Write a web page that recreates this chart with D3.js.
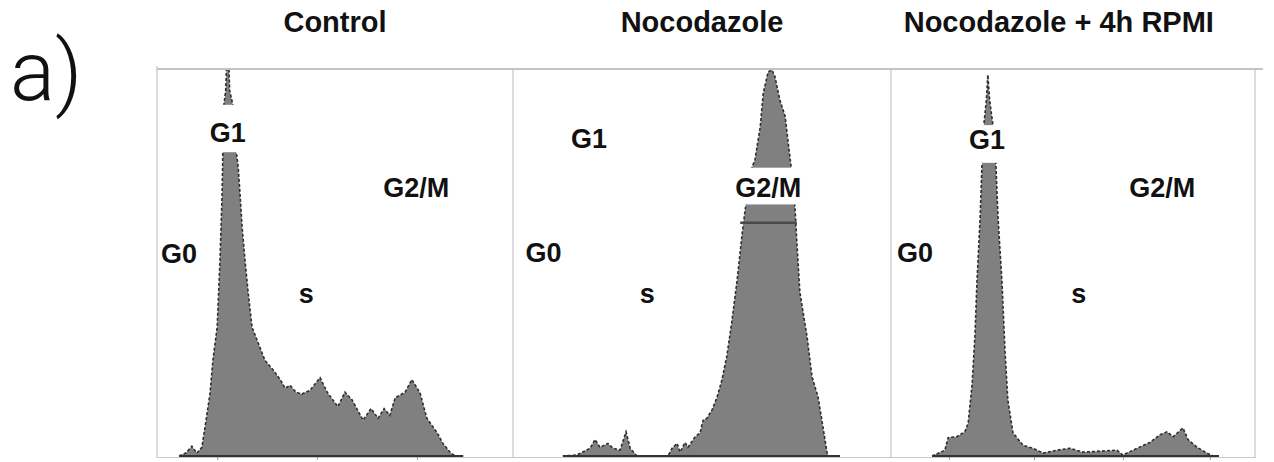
<!DOCTYPE html>
<html>
<head>
<meta charset="utf-8">
<script src="https://cdn.jsdelivr.net/npm/d3@7"></script>
<style>
  html, body { margin: 0; padding: 0; background: #fff; }
  svg { display: block; }
</style>
</head>
<body>
<div id="chart"></div>
<script>
// panel titles
const titles = ["Control", "Nocodazole", "Nocodazole + 4h RPMI"];
const phaseNames = ["G0", "G1", "s", "G2/M"];

// DNA content histograms: [channel (0-1000), events (0-400 = top of frame)]
const controlHist = [
  [62,0],[81,3],[98,10],[112,3],[126,9],[135,30],[149,65],[157,99],[169,133],[177,203],
  [183,272],[185,316],[188,363],[193,378],[199,440],[204,378],[213,363],[222,316],[228,299],
  [233,272],[239,237],[247,203],[256,169],[267,133],[284,117],[303,99],[326,89],[346,79],
  [360,70],[374,73],[390,66],[407,64],[430,68],[458,81],[478,66],[508,51],[528,66],[548,58],
  [579,37],[601,49],[621,39],[638,49],[654,42],[669,60],[697,66],[716,79],[739,65],[758,39],
  [787,24],[803,13],[823,4],[837,0],[860,0]
];
const nocodazoleHist = [
  [132,0],[169,1],[204,8],[217,17],[230,9],[251,13],[265,8],[283,6],[299,25],[310,8],
  [328,0],[410,0],[421,8],[434,13],[442,4],[455,14],[463,9],[482,20],[495,24],[503,37],
  [513,39],[527,48],[540,61],[553,79],[566,104],[579,139],[593,182],[606,229],[614,254],
  [622,275],[632,298],[640,306],[654,340],[662,375],[675,397],[685,399],[693,392],[706,368],
  [720,351],[728,324],[736,298],[741,275],[746,257],[751,220],[759,169],[778,123],[791,82],
  [807,61],[820,30],[831,3],[836,0],[865,0]
];
const releaseHist = [
  [113,0],[148,6],[157,19],[181,20],[203,25],[212,34],[223,75],[231,127],[236,179],[245,247],
  [250,303],[255,342],[262,368],[266,394],[271,368],[280,342],[288,303],[294,247],[305,179],
  [313,110],[321,58],[335,24],[363,11],[390,8],[418,3],[456,6],[492,8],[527,4],[574,5],
  [621,6],[637,1],[676,8],[711,14],[739,22],[758,25],[775,20],[802,29],[816,17],[841,9],
  [868,3],[885,0],[901,0]
];
const histograms = [controlHist, nocodazoleHist, releaseHist];

// small axis ticks on the bottom line (channel)
const axisTicks = [[169, 449, 730], [], [159, 393, 637, 876]];

// dark gate line across the nocodazole G2/M peak: [from, to, events]
const gateLine = [601, 751, 241];

// title centre per panel (channel)
const titleAnchors = [500, 500, 461];

// phase label anchors per panel: [channel, events], order as phaseNames
const labelAnchors = [
  [[62,200],[199,325],[419,158],[728,268]],
  [[81,201],[201,318],[355,158],[675,268]],
  [[66,201],[264,317],[516,158],[745,268]]
];
// which label blanks out the peak behind it: [panel, phase, low events, high events]
const labelMasks = [[0, 1, 314, 363], [1, 3, 260, 298], [2, 1, 303, 342]];

const width = 1274;
const height = 462;
const panelEdges = [157, 513, 891, 1255];
const plotTop = 69;
const plotBottom = 456;

const y = d3.scaleLinear([0, 400], [plotBottom, plotTop]);

const svg = d3.select("#chart").append("svg")
    .attr("width", width)
    .attr("height", height)
    .attr("viewBox", [0, 0, width, height]);

const defs = svg.append("defs");

// "a)" panel letter
svg.append("text")
    .attr("x", 10)
    .attr("y", 100)
    .attr("font-family", "Roboto, 'Open Sans', sans-serif")
    .attr("font-weight", 300)
    .attr("font-size", 84)
    .attr("fill", "#111")
    .text("a)");

// frame: top line and panel dividers
svg.append("line")
    .attr("x1", panelEdges[0]).attr("x2", panelEdges[3] + 8)
    .attr("y1", plotTop).attr("y2", plotTop)
    .attr("stroke", "#b0b0b0").attr("stroke-width", 1.5);

svg.selectAll(".divider")
  .data(panelEdges)
  .join("line")
    .attr("class", "divider")
    .attr("x1", d => d).attr("x2", d => d)
    .attr("y1", (d, i) => i === 0 ? plotTop - 3 : plotTop)
    .attr("y2", plotBottom + 2)
    .attr("stroke", "#c4c4c4").attr("stroke-width", 1.2);

titles.forEach(function(title, i) {
  const x = d3.scaleLinear([0, 1000], [panelEdges[i], panelEdges[i + 1]]);
  const data = histograms[i];
  const g = svg.append("g");

  // bottom axis: light domain line and tiny ticks
  g.append("g")
      .attr("transform", `translate(0,${plotBottom + 1})`)
      .call(d3.axisBottom(x).tickValues(axisTicks[i]).tickSize(3).tickSizeOuter(0).tickFormat(""))
      .call(g => g.select(".domain").attr("stroke", "#c8c8c8").attr("stroke-width", 1.2))
      .call(g => g.selectAll(".tick line").attr("stroke", "#999"));

  defs.append("clipPath")
      .attr("id", "clip" + i)
    .append("rect")
      .attr("x", panelEdges[i] + 1)
      .attr("y", plotTop + 1)
      .attr("width", panelEdges[i + 1] - panelEdges[i] - 2)
      .attr("height", plotBottom - plotTop + 4);

  const area = d3.area()
      .x(d => x(d[0]))
      .y0(y(0))
      .y1(d => y(d[1]));

  const line = d3.line()
      .x(d => x(d[0]))
      .y(d => y(d[1]));

  const plot = g.append("g").attr("clip-path", `url(#clip${i})`);

  plot.append("path")
      .attr("d", area(data))
      .attr("fill", "#808080");

  plot.append("path")
      .attr("d", line(data))
      .attr("fill", "none")
      .attr("stroke", "#2e2e2e")
      .attr("stroke-width", 1.6)
      .attr("stroke-dasharray", "3,2");

  // dark baseline under the histogram
  plot.append("line")
      .attr("x1", x(data[0][0])).attr("x2", x(data[data.length - 1][0]))
      .attr("y1", y(0)).attr("y2", y(0))
      .attr("stroke", "#333").attr("stroke-width", 2);

  if (i === 1) {
    plot.append("line")
        .attr("x1", x(gateLine[0])).attr("x2", x(gateLine[1]))
        .attr("y1", y(gateLine[2])).attr("y2", y(gateLine[2]))
        .attr("stroke", "#4a4a4a").attr("stroke-width", 2.5);
  }

  // labels, some on white to cut the peak
  phaseNames.forEach(function(name, j) {
    const [cx, cy] = labelAnchors[i][j];
    const mask = labelMasks.find(m => m[0] === i && m[1] === j);
    if (mask) {
      g.append("rect")
          .attr("x", x(cx) - 40)
          .attr("width", 80)
          .attr("y", y(mask[3]))
          .attr("height", y(mask[2]) - y(mask[3]))
          .attr("fill", "#fff");
    }
    g.append("text")
        .attr("x", x(cx))
        .attr("y", y(cy))
        .attr("text-anchor", "middle")
        .attr("font-family", "'Liberation Sans', Arial, sans-serif")
        .attr("font-weight", "bold")
        .attr("font-size", 27)
        .attr("fill", "#111")
        .text(name);
  });

  // panel title
  svg.append("text")
      .attr("x", x(titleAnchors[i]))
      .attr("y", 32)
      .attr("text-anchor", "middle")
      .attr("font-family", "'Liberation Sans', Arial, sans-serif")
      .attr("font-weight", "bold")
      .attr("font-size", 29)
      .attr("fill", "#111")
      .text(title);
});
</script>
</body>
</html>
